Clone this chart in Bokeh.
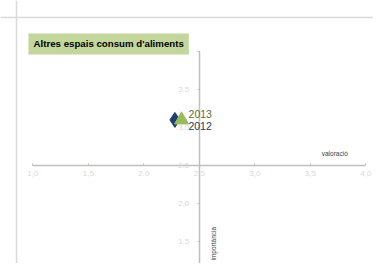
import math
from bokeh.plotting import figure
from bokeh.models import (ColumnDataSource, FixedTicker, CustomJSTickFormatter,
                          Label, Span, Range1d)
from bokeh.core.properties import value
from bokeh.embed import file_html
from bokeh.resources import INLINE

# ---- data ----
series = ["2012", "2013"]
valoracio = [2.28, 2.34]     # x
importancia = [3.10, 3.10]   # y
tick_values = [1.0, 1.5, 2.0, 2.5, 3.0, 3.5, 4.0]
title_text = "Altres espais consum d'aliments"
x_title = "valoració"
y_title = "importància"

p = figure(width=373, height=263, output_backend="svg", toolbar_location=None,
           x_range=Range1d(0.709, 4.069), y_range=Range1d(1.210, 4.671),
           min_border=0, min_border_left=0, min_border_top=0,
           min_border_right=0, min_border_bottom=0,
           background_fill_color="white", border_fill_color="white")
p.outline_line_color = None
p.grid.visible = False

fmt = CustomJSTickFormatter(code="return tick.toFixed(1).replace('.', ',');")
for ax, loc in ((p.xaxis, 2.5), (p.yaxis, 2.5)):
    ax.fixed_location = loc
    ax.ticker = FixedTicker(ticks=tick_values)
    ax.formatter = fmt
    ax.bounds = (1.0, 4.0)
    ax.axis_line_color = "#bfbfbf"
    ax.axis_line_width = 1.5
    ax.major_tick_line_color = "#bfbfbf"
    ax.minor_tick_line_color = None
    ax.major_label_text_color = "#d9d9d9"
    ax.major_label_text_font = "Liberation Sans"
    ax.major_label_text_font_size = "8px"
    ax.level = "underlay"

p.xaxis.major_tick_in = 2
p.xaxis.major_tick_out = 0
p.xaxis.major_label_standoff = 6
p.yaxis.major_tick_in = 0
p.yaxis.major_tick_out = 2
p.yaxis.major_label_standoff = 8

# chart border (left and top)
p.add_layout(Span(location=0.853, dimension="height", line_color="#d9d9d9", line_width=1.5))
p.add_layout(Span(location=4.447, dimension="width", line_color="#d9d9d9", line_width=1.5))

src12 = ColumnDataSource(dict(x=[valoracio[0]], y=[importancia[0]], t=[series[0]]))
src13 = ColumnDataSource(dict(x=[valoracio[1]], y=[importancia[1]], t=[series[1]]))

p.scatter("x", "y", source=src12, marker="diamond", size=15,
          fill_color="#1f3f73", line_color="#1f3f73")
p.scatter("x", "y", source=src13, marker="triangle", size=14,
          fill_color="#9bbb59", line_color="#9bbb59")

p.text("x", "y", text="t", source=src13, x_offset=7, y_offset=-5.5,
       text_font_size="10.5px", text_color="#5a6e2e", text_baseline="middle",
       text_font=value("Liberation Sans"))
p.text("x", "y", text="t", source=src12, x_offset=13.5, y_offset=6,
       text_font_size="10.5px", text_color="#1f3864", text_baseline="middle",
       text_font=value("Liberation Sans"))

# title box
p.add_layout(Label(x=0.961, y=4.237, text=title_text, anchor="top_left",
                   text_font="Liberation Sans", text_font_style="bold",
                   text_font_size="9.7px", text_color="black",
                   background_fill_color="#c3d69b", padding=5))

# axis titles
p.add_layout(Label(x=3.72, y=2.5, y_offset=8, text=x_title, text_align="center",
                   text_font="Liberation Sans", text_font_size="6.5px",
                   text_color="#404040"))
p.add_layout(Label(x=2.5, y=1.47, x_offset=14, text=y_title, text_align="center",
                   text_baseline="middle", angle=math.pi / 2,
                   text_font="Liberation Sans", text_font_size="6.5px",
                   text_color="#404040"))

open("out.html", "w").write(file_html(p, INLINE))
